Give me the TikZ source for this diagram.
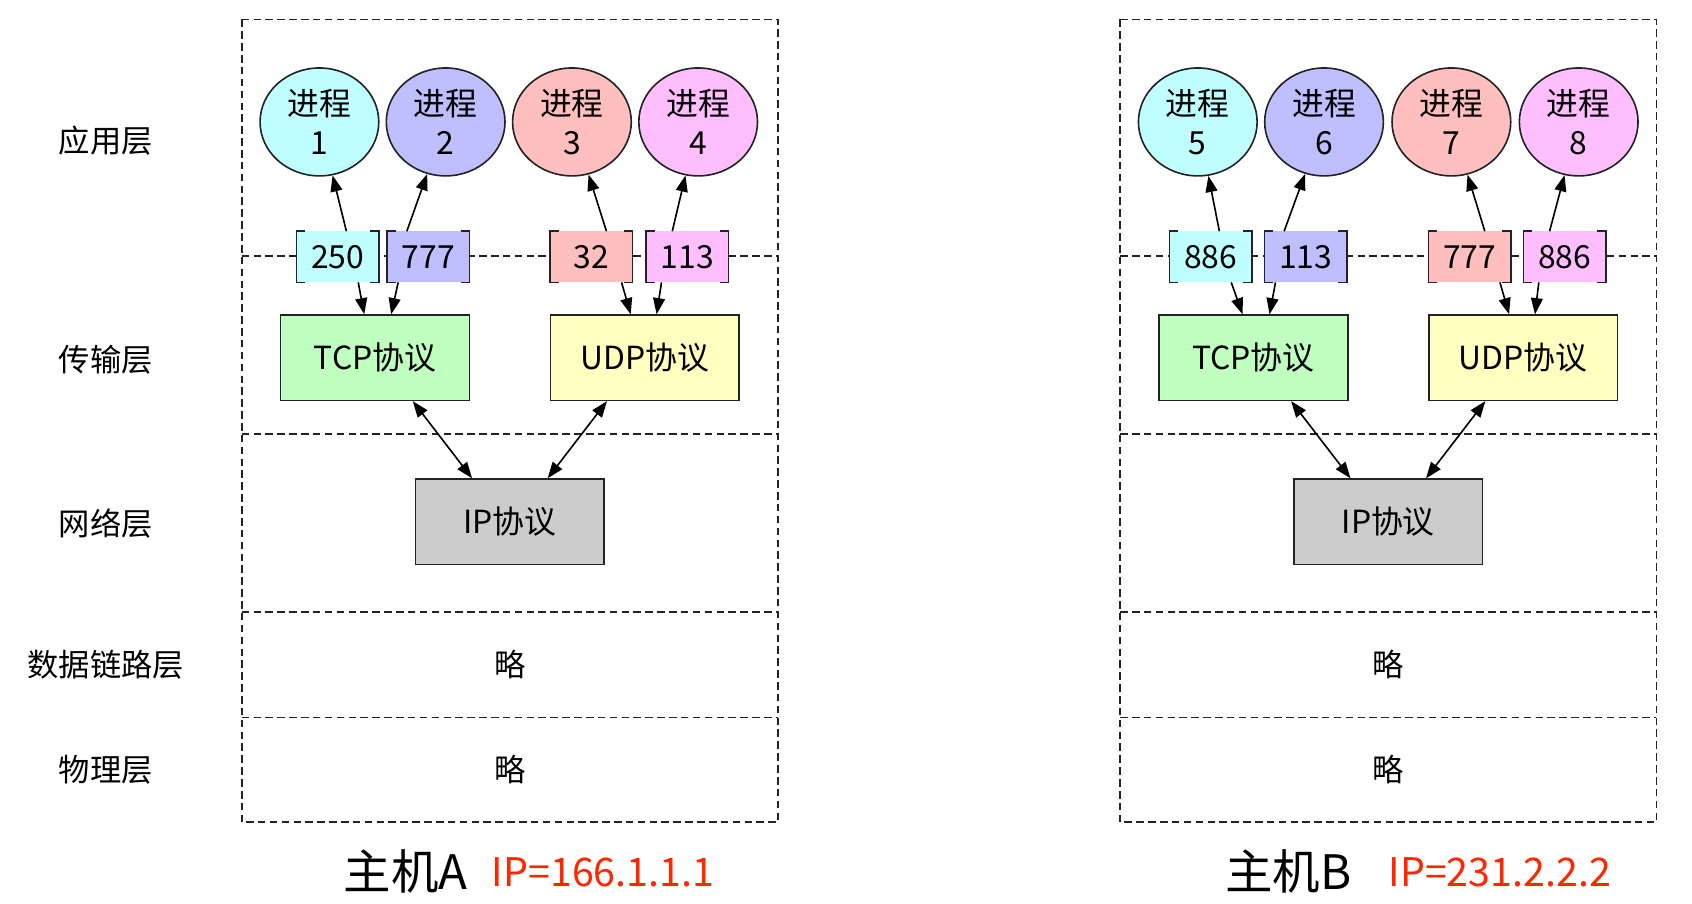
\documentclass[tikz,border=0pt]{standalone}
\usepackage{fontspec}
\setmainfont{Noto Sans CJK SC}
\usetikzlibrary{arrows.meta, shapes.geometric, positioning}
\definecolor{proccyan}{RGB}{191,255,255}
\definecolor{procblue}{RGB}{191,191,255}
\definecolor{procred}{RGB}{255,191,191}
\definecolor{procpink}{RGB}{255,191,255}
\definecolor{tcpgreen}{RGB}{191,255,191}
\definecolor{udpyellow}{RGB}{255,255,191}
\definecolor{ipgray}{RGB}{204,204,204}
\definecolor{ipred}{RGB}{255,38,0}
\definecolor{edgegray}{RGB}{35,35,35}

\begin{document}
\begin{tikzpicture}[x=1pt, y=-1pt,
    layer/.style={draw=edgegray, dash pattern=on 7pt off 4pt, line width=1.6pt},
    proc/.style={ellipse, draw=edgegray, line width=1.5pt, minimum width=110pt, minimum height=100pt,
      inner sep=0pt, align=center, font=\fontsize{29.5}{36}\selectfont},
    port/.style={minimum width=76pt, minimum height=47pt, inner sep=0pt, font=\fontsize{29.5}{32}\selectfont},
    brk/.style={draw=edgegray, line width=1.5pt},
    proto/.style={draw=edgegray, line width=1.5pt, minimum width=175pt, minimum height=79pt,
      inner sep=0pt, font=\fontsize{29.5}{32}\selectfont},
    lbl/.style={font=\fontsize{29}{32}\selectfont},
    arr/.style={-{Triangle[length=15pt,width=11pt]}, line width=1.5pt},
    dbl/.style={{Triangle[length=15pt,width=11pt]}-{Triangle[length=15pt,width=11pt]}, line width=1.5pt}]
  \useasboundingbox (0,0) rectangle (1568,837);

  % layer names
  \node[lbl] (app) at (98,130) {应用层};
  \node[lbl] (trans) at (98,333) {传输层};
  \node[lbl] (net) at (98,485) {网络层};
  \node[lbl] (link) at (98,616) {数据链路层};
  \node[lbl] (phys) at (98,713) {物理层};

  % host frames
  \foreach \hx in {224,1038} {
    \draw[layer] (\hx,18) rectangle ++(497,744);
    \foreach \ly in {237,402,567,665}
      \draw[layer] (\hx,\ly) -- ++(497,0);
  }
  \node[lbl] (linkA) at (472.5,616) {略};
  \node[lbl] (physA) at (472.5,713) {略};
  \node[lbl] (linkB) at (1286.5,616) {略};
  \node[lbl] (physB) at (1286.5,713) {略};

  % processes and ports
  \foreach \x/\c/\n in {296/proccyan/1, 413/procblue/2, 530/procred/3, 647/procpink/4,
      1110/proccyan/5, 1227/procblue/6, 1345/procred/7, 1463/procpink/8}
    \node[proc, fill=\c] (e\n) at (\x,113) {进程\\\n};
  \foreach \x/\c/\n/\t in {313/proccyan/1/250, 397/procblue/2/777, 548/procred/3/32, 637/procpink/4/113,
      1122/proccyan/5/886, 1210/procblue/6/113, 1362/procred/7/777, 1450/procpink/8/886} {
    \node[port, fill=\c] (p\n) at (\x,238) {\t};
    \draw[brk] ([xshift=8pt]p\n.north west) -- (p\n.north west) -- (p\n.south west) -- ([xshift=8pt]p\n.south west);
    \draw[brk] ([xshift=-8pt]p\n.north east) -- (p\n.north east) -- (p\n.south east) -- ([xshift=-8pt]p\n.south east);
  }

  % protocols
  \node[proto, fill=tcpgreen] (tcpA) at (347.5,331.5) {TCP协议};
  \node[proto, fill=udpyellow] (udpA) at (597.5,331.5) {UDP协议};
  \node[proto, fill=ipgray] (ipA) at (472.5,483.5) {IP协议};
  \node[proto, fill=tcpgreen] (tcpB) at (1161.5,331.5) {TCP协议};
  \node[proto, fill=udpyellow] (udpB) at (1411.5,331.5) {UDP协议};
  \node[proto, fill=ipgray] (ipB) at (1286.5,483.5) {IP协议};

  % connectors
  \foreach \h/\a/\b/\c/\d in {A/1/2/3/4, B/5/6/7/8} {
    \draw[arr] ([xshift=8pt]p\a.north) -- (e\a);
    \draw[arr] ([xshift=-20pt]p\b.north) -- (e\b);
    \draw[arr] ([xshift=14pt]p\c.north) -- (e\c);
    \draw[arr] ([xshift=-14pt]p\d.north) -- (e\d);
    \draw[arr] ([xshift=19pt]p\a.south) -- ([xshift=-10pt]tcp\h.north);
    \draw[arr] ([xshift=-28pt]p\b.south) -- ([xshift=15pt]tcp\h.north);
    \draw[arr] ([xshift=28pt]p\c.south) -- ([xshift=-13pt]udp\h.north);
    \draw[arr] ([xshift=-24pt]p\d.south) -- ([xshift=11pt]udp\h.north);
    \draw[dbl] ([xshift=35pt]tcp\h.south) -- ([xshift=-35pt]ip\h.north);
    \draw[dbl] ([xshift=-35pt]udp\h.south) -- ([xshift=35pt]ip\h.north);
  }

  % hosts
  \node[inner sep=0pt, font=\fontsize{44}{48}\selectfont] (hostA) at (376,808) {主机A};
  \node[inner sep=0pt, right=22pt of hostA, text=ipred, font=\fontsize{36.5}{40}\selectfont] (addrA) {IP=166.1.1.1};
  \node[inner sep=0pt, font=\fontsize{44}{48}\selectfont] (hostB) at (1194,808) {主机B};
  \node[inner sep=0pt, right=34pt of hostB, text=ipred, font=\fontsize{36.5}{40}\selectfont] (addrB) {IP=231.2.2.2};
\end{tikzpicture}
\end{document}
